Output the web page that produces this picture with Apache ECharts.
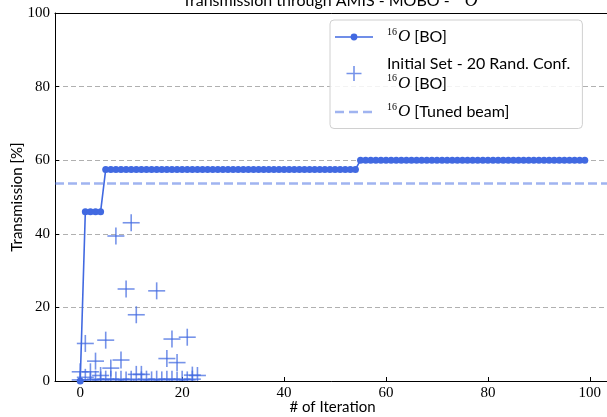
<!DOCTYPE html>
<html><head><meta charset="utf-8">
<script src="https://cdn.jsdelivr.net/npm/echarts@6/dist/echarts.min.js"></script>
<style>html,body{margin:0;padding:0;background:#fff}#c{width:607px;height:417px}</style>
</head><body><div id="c"></div>
<script>
// ---- data ----
const xTicks = [0, 20, 40, 60, 80, 100];
const yTicks = [0, 20, 40, 60, 80, 100];
const boIter = [0,1,2,3,4,5,6,7,8,9,10,11,12,13,14,15,16,17,18,19,20,21,22,23,24,25,26,27,28,29,30,31,32,33,34,35,36,37,38,39,40,41,42,43,44,45,46,47,48,49,50,51,52,53,54,55,56,57,58,59,60,61,62,63,64,65,66,67,68,69,70,71,72,73,74,75,76,77,78,79,80,81,82,83,84,85,86,87,88,89,90,91,92,93,94,95,96,97,98,99];
const boValues = [0,
  46,46,46,46,
  57.5,57.5,57.5,57.5,57.5,57.5,57.5,57.5,57.5,57.5,
  57.5,57.5,57.5,57.5,57.5,57.5,57.5,57.5,57.5,57.5,
  57.5,57.5,57.5,57.5,57.5,57.5,57.5,57.5,57.5,57.5,
  57.5,57.5,57.5,57.5,57.5,57.5,57.5,57.5,57.5,57.5,
  57.5,57.5,57.5,57.5,57.5,57.5,57.5,57.5,57.5,57.5,
  60,60,60,60,60,60,60,60,60,60,
  60,60,60,60,60,60,60,60,60,60,
  60,60,60,60,60,60,60,60,60,60,
  60,60,60,60,60,60,60,60,60,60,
  60,60,60,60,60];
const initIter = [1,10,7,9,15,11,5,18,21,3,8,17,19,6,22,
  0,0,1,2,2,3,4,4,5,6,7,8,9,10,11,12,12,13,14,15,16,17,18,19,20,21,22,23];
const initValues = [10.2,43,39.4,25,24.5,18,11.1,11.4,11.9,5.4,5.7,6.1,5.0,3.5,1.6,
  2.5,0.3,1.0,2.5,0.3,0.5,1.5,0.3,0.5,0.5,0.3,0.5,0.3,0.5,1.8,1.8,0.3,0.5,0.3,0.5,0.3,0.5,0.5,0.3,0.5,0.3,0.5,1.5];
const tunedBeam = [53.7];

const BO_NAME = '16O [BO]';
const INIT_NAME = 'Initial Set - 20 Rand. Conf. 16O [BO]';
const TUNED_NAME = '16O [Tuned beam]';

const lineColor = '#4169e1';
const crossColor = 'rgba(65,105,225,0.72)';
const tunedColor = 'rgba(65,105,225,0.5)';
const sans = 'Lato';
const serif = 'Liberation Serif';

// legend icons (38 x 15 box; tiny corner dots fix the bounding box so nothing is stretched)
const corners = 'M0,0 h0.01 v0.01 h-0.01 Z M37.99,14.99 h0.01 v0.01 h-0.01 Z ';
const boIcon = 'path://' + corners + 'M0,6.7 H38 V8.3 H0 Z M15.6,7.5 A3.4,3.4 0 1,1 22.4,7.5 A3.4,3.4 0 1,1 15.6,7.5 Z';
const crossIcon = 'path://' + corners + 'M11.5,6.7 H26.5 V8.3 H11.5 Z M18.2,0 H19.8 V15 H18.2 Z';
const tunedIcon = 'path://' + corners + 'M0,6.3 H9 V8.7 H0 Z M14,6.3 H23 V8.7 H14 Z M28,6.3 H37 V8.7 H28 Z';

const chart = echarts.init(document.getElementById('c'), null, {renderer: 'canvas'});
const richText = {
  t: {fontFamily: sans, fontSize: 16, color: '#000', lineHeight: 20},
  sup: {fontFamily: serif, fontSize: 10, color: '#000', verticalAlign: 'top', lineHeight: 20, padding: [0, 1, 0, 0]},
  it: {fontFamily: serif, fontSize: 17, fontStyle: 'italic', color: '#000', lineHeight: 20}
};
const axisBlack = {color: '#000', width: 1};
chart.setOption({
  animation: false,
  backgroundColor: '#fff',
  title: {
    text: '{t|Transmission through AMIS - MOBO - }{sup|16}{it|O}',
    left: 330, textAlign: 'center', top: -8, padding: 0,
    textStyle: {fontWeight: 'normal', rich: {
      t: {fontFamily: sans, fontSize: 16, fontWeight: 'normal', color: '#000'},
      sup: {fontFamily: serif, fontSize: 11, fontWeight: 'normal', color: '#000', verticalAlign: 'top'},
      it: {fontFamily: serif, fontSize: 18, fontWeight: 'normal', fontStyle: 'italic', color: '#000'}
    }}
  },
  grid: {left: 55, right: -3, top: 13, bottom: 36, outerBoundsMode: 'none', containLabel: false, show: false},
  legend: {
    orient: 'vertical', left: 330, top: 20,
    itemWidth: 38, itemHeight: 15, itemGap: 10,
    padding: [7, 12, 8, 5],
    borderColor: '#d0d0d0', borderWidth: 1, borderRadius: 4,
    backgroundColor: 'rgba(255,255,255,0.85)',
    data: [
      {name: BO_NAME, icon: boIcon},
      {name: INIT_NAME, icon: crossIcon},
      {name: TUNED_NAME, icon: tunedIcon}
    ],
    formatter: function (name) {
      if (name === BO_NAME) return '{sup|16}{it|O}{t| [BO]}';
      if (name === INIT_NAME) return '{t|Initial Set - 20 Rand. Conf.}\n{sup|16}{it|O}{t| [BO]}';
      return '{sup|16}{it|O}{t| [Tuned beam]}';
    },
    textStyle: {fontFamily: sans, fontSize: 16, color: '#000', padding: [0, 0, 0, 9], rich: richText}
  },
  xAxis: [{
    type: 'value', min: -4.95, max: 103.95, position: 'bottom',
    name: '# of Iteration', nameLocation: 'middle', nameGap: 19, nameMoveOverlap: false,
    nameTextStyle: {fontFamily: sans, fontSize: 15, color: '#000'},
    axisLine: {show: true, onZero: false, lineStyle: axisBlack},
    axisTick: {show: true, inside: true, length: 4, customValues: xTicks, lineStyle: {color: '#000'}},
    axisLabel: {customValues: xTicks, fontFamily: serif, fontSize: 15, color: '#000', margin: 5},
    splitLine: {show: false}
  }, {
    type: 'value', min: -4.95, max: 103.95, position: 'top',
    axisLine: {show: true, onZero: false, lineStyle: axisBlack},
    axisTick: {show: false}, axisLabel: {show: false}, splitLine: {show: false}
  }],
  yAxis: {
    type: 'value', min: 0, max: 100, interval: 20,
    name: 'Transmission [%]', nameLocation: 'middle', nameGap: 30, nameRotate: 90, nameMoveOverlap: false,
    nameTextStyle: {fontFamily: sans, fontSize: 15, color: '#000'},
    axisLine: {show: true, onZero: false, lineStyle: axisBlack},
    axisTick: {show: true, inside: true, length: 4, customValues: yTicks, lineStyle: {color: '#000'}},
    axisLabel: {customValues: yTicks, fontFamily: serif, fontSize: 15, color: '#000', margin: 5},
    splitLine: {show: true, lineStyle: {color: '#b0b0b0', type: [5, 3], width: 1}}
  },
  series: [
    {
      name: BO_NAME, type: 'line',
      data: boIter.map((x, i) => [x, boValues[i]]),
      symbol: 'circle', symbolSize: 7, showSymbol: true,
      itemStyle: {color: lineColor},
      lineStyle: {color: lineColor, width: 1.6},
      z: 3
    },
    {
      name: INIT_NAME, type: 'custom', clip: true,
      data: initIter.map((x, i) => [x, initValues[i]]),
      itemStyle: {color: crossColor},
      renderItem: function (params, api) {
        const p = api.coord([api.value(0), api.value(1)]);
        const h = 8.5;
        return {
          type: 'group',
          children: [
            {type: 'line', shape: {x1: p[0] - h, y1: p[1], x2: p[0] + h, y2: p[1]}, style: {stroke: crossColor, lineWidth: 1.6}},
            {type: 'line', shape: {x1: p[0], y1: p[1] - h, x2: p[0], y2: p[1] + h}, style: {stroke: crossColor, lineWidth: 1.6}}
          ]
        };
      },
      z: 4
    },
    {
      name: TUNED_NAME, type: 'line', data: [],
      symbol: 'none',
      itemStyle: {color: tunedColor},
      lineStyle: {color: tunedColor, width: 2.5, type: [9, 4]},
      markLine: {
        silent: true, symbol: 'none', label: {show: false},
        lineStyle: {color: tunedColor, width: 2.5, type: [9, 4]},
        data: tunedBeam.map(v => ({yAxis: v}))
      },
      z: 2
    }
  ]
});
</script>
</body></html>
